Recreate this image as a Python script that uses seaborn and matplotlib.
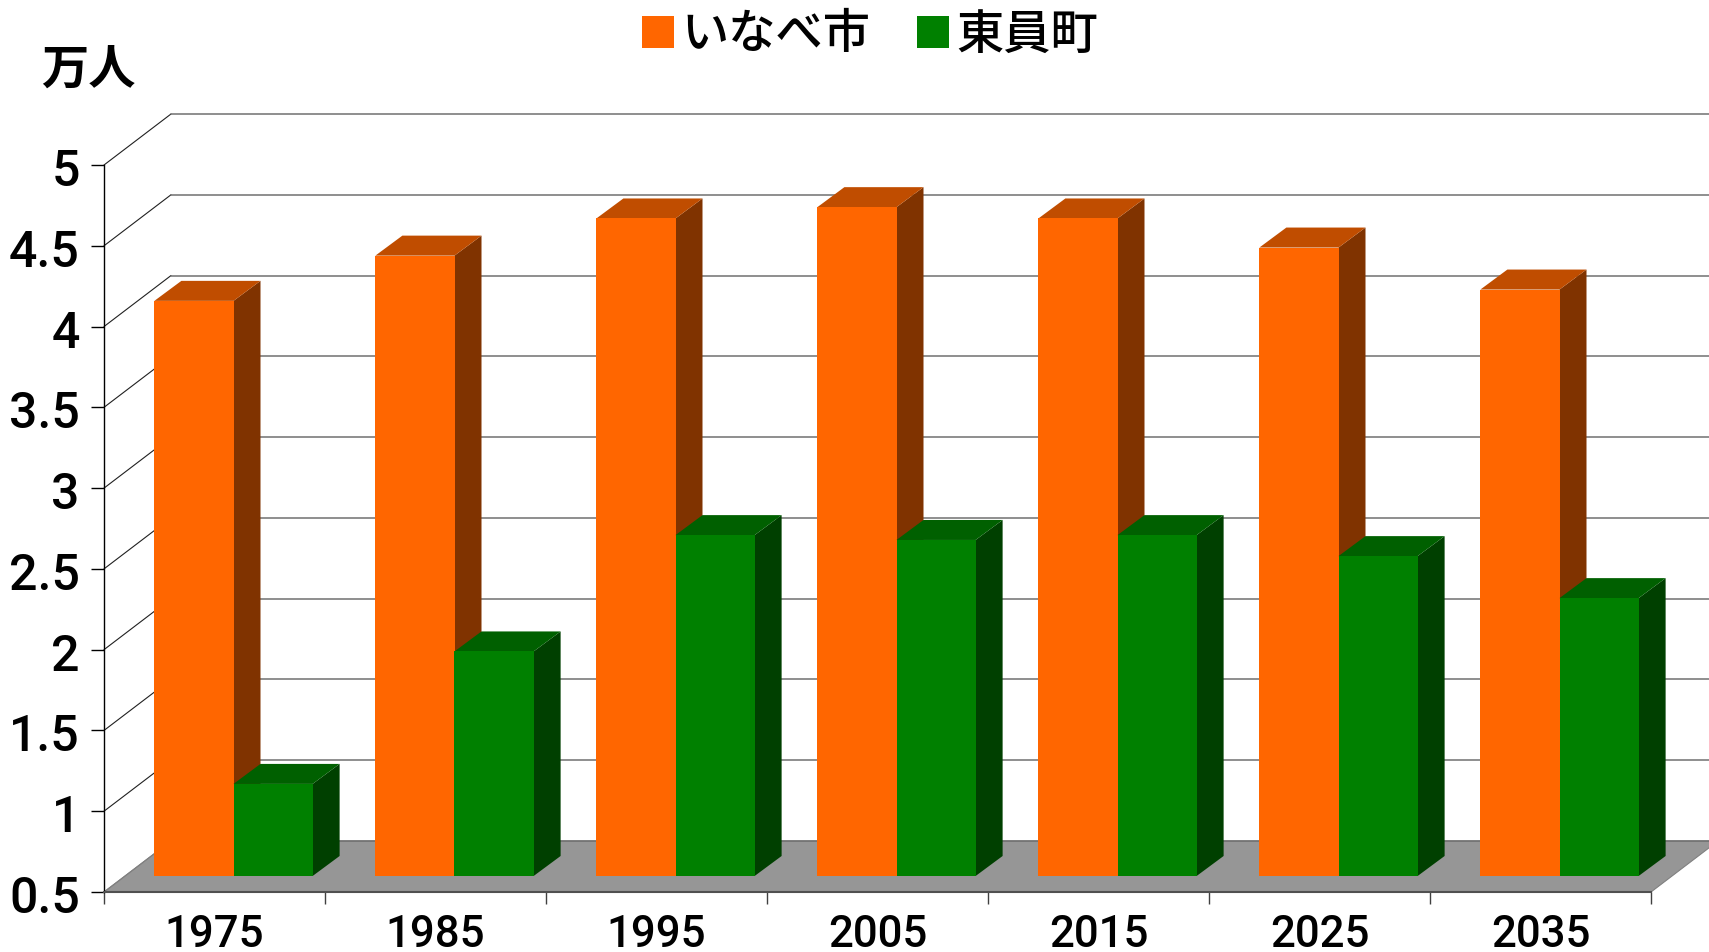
import matplotlib
matplotlib.use("Agg")
import matplotlib.pyplot as plt
from matplotlib.patches import Polygon
from matplotlib.transforms import Affine2D, IdentityTransform
import numpy as np
import pandas as pd
import seaborn as sns

years = ["1975", "1985", "1995", "2005", "2015", "2025", "2035"]
inabe = [4.06, 4.34, 4.57, 4.64, 4.57, 4.39, 4.13]
toin = [1.07, 1.89, 2.61, 2.58, 2.61, 2.48, 2.22]
city_names = ["いなべ市", "東員町"]
y_ticks = [0.5, 1, 1.5, 2, 2.5, 3, 3.5, 4, 4.5, 5]
y_labels = ["0.5", "1", "1.5", "2", "2.5", "3", "3.5", "4", "4.5", "5"]
unit_label = "万人"

face_cols = ["#FF6600", "#008000"]
top_cols = ["#C04D00", "#006000"]
side_cols = ["#803300", "#004000"]

W, H = 1709, 952
L, R, T, B = 104, 1651, 165, 892
WALL = (67, 51)
BAR_SHIFT = (19, 16)
BAR_DEPTH = (27, 20)

sns.set_theme(style="white")
plt.rcParams["font.family"] = ["Noto Sans CJK JP", "DejaVu Sans"]

df = pd.DataFrame({
    "year": years * 2,
    "pop": inabe + toin,
    "city": [city_names[0]] * len(years) + [city_names[1]] * len(years),
})

fig = plt.figure(figsize=(W / 100, H / 100), dpi=100, facecolor="white")
ax = fig.add_axes([L / W, (H - B) / H, (R - L) / W, (B - T) / H])
ax.patch.set_visible(False)

sns.barplot(data=df, x="year", y="pop", hue="city", palette=face_cols, hue_order=city_names,
            order=years, width=0.716, gap=0, saturation=1, ax=ax, linewidth=0)
ax.set_xlim(-0.5, len(years) - 0.5)
ax.set_ylim(0.5, 5)
ax.set_xlabel("")
ax.set_ylabel("")


def px(x, y, dx=0, dy=0):
    p = ax.transData.transform((x, y))
    return (p[0] + dx, p[1] + dy)


x0, x1 = ax.get_xlim()
floor = Polygon([px(x0, 0.5), px(x0, 0.5, *WALL), px(x1, 0.5, *WALL), px(x1, 0.5)],
                closed=True, facecolor="#969696", edgecolor="#808080", linewidth=0.8,
                transform=IdentityTransform(), clip_on=False, zorder=1)
ax.add_patch(floor)

for v in y_ticks:
    a, b = px(x0, v), px(x0, v, *WALL)
    c = px(x1, v, *WALL)
    ax.plot([a[0], b[0]], [a[1], b[1]], color="#202020" if v > 0.5 else "#808080", lw=0.8,
            transform=IdentityTransform(), clip_on=False, zorder=1.5)
    ax.plot([b[0], c[0]], [b[1], c[1]], color="#707070", lw=1.1,
            transform=IdentityTransform(), clip_on=False, zorder=1.5)

face_shift = ax.transData + Affine2D().translate(*BAR_SHIFT)
sx, sy = BAR_SHIFT
dx, dy = BAR_DEPTH
for i, cont in enumerate(ax.containers):
    for rect in cont.patches:
        h = rect.get_height()
        rect.set_y(0.5)
        rect.set_height(h - 0.5)
        rect.set_transform(face_shift)
        rect.set_clip_on(False)
        rect.set_zorder(5 + 2 * i)
        xl, xr = rect.get_x(), rect.get_x() + rect.get_width()
        side = Polygon([px(xr, 0.5, sx, sy), px(xr, 0.5, sx + dx, sy + dy),
                        px(xr, h, sx + dx, sy + dy), px(xr, h, sx, sy)],
                       closed=True, facecolor=side_cols[i], edgecolor="none",
                       transform=IdentityTransform(), clip_on=False, zorder=4 + 2 * i)
        top = Polygon([px(xl, h, sx, sy), px(xl, h, sx + dx, sy + dy),
                       px(xr, h, sx + dx, sy + dy), px(xr, h, sx, sy)],
                      closed=True, facecolor=top_cols[i], edgecolor="none",
                      transform=IdentityTransform(), clip_on=False, zorder=4 + 2 * i)
        ax.add_patch(side)
        ax.add_patch(top)

for s in ("top", "right"):
    ax.spines[s].set_visible(False)
ax.spines["left"].set_color("black")
ax.spines["left"].set_linewidth(1.0)
ax.spines["bottom"].set_color("#505050")
ax.spines["bottom"].set_linewidth(1.5)

ax.set_yticks(y_ticks)
ax.set_yticklabels(y_labels)
ax.tick_params(axis="y", left=True, length=9.4, width=1.0, color="black", pad=8.0,
               labelsize=36, labelcolor="black")
for lab in ax.get_yticklabels():
    lab.set_family(["Roboto"])
    lab.set_fontweight("medium")
    lab.set_va("center_baseline")
    lab.set_transform(lab.get_transform() + Affine2D().translate(0, -2))

ax.set_xticks(np.arange(len(years)))
ax.set_xticklabels(years)
ax.tick_params(axis="x", which="major", bottom=False, length=0, pad=16, labelsize=31.5, labelcolor="black")
ax.set_xticks(np.arange(len(years) + 1) - 0.5, minor=True)
ax.tick_params(axis="x", which="minor", bottom=True, length=8.6, width=1.0, color="#404040")
for lab in ax.get_xticklabels():
    lab.set_family(["Roboto"])
    lab.set_fontweight("medium")

handles, labels = ax.get_legend_handles_labels()
ax.legend(handles, labels, ncols=2, loc="center", bbox_to_anchor=(870 / W, 1 - 35 / H),
          bbox_transform=fig.transFigure, frameon=False,
          prop={"size": 34, "weight": "medium", "family": ["Noto Sans CJK JP", "DejaVu Sans"]},
          handlelength=0.68, handleheight=0.68, handletextpad=0.15, columnspacing=1.0,
          borderpad=0, borderaxespad=0, labelcolor="black")

fig.text(88 / W, 1 - 70 / H, unit_label, ha="center", va="center", fontsize=34,
         fontweight="bold", color="black")

fig.savefig("out.png", dpi=100, facecolor="white")
